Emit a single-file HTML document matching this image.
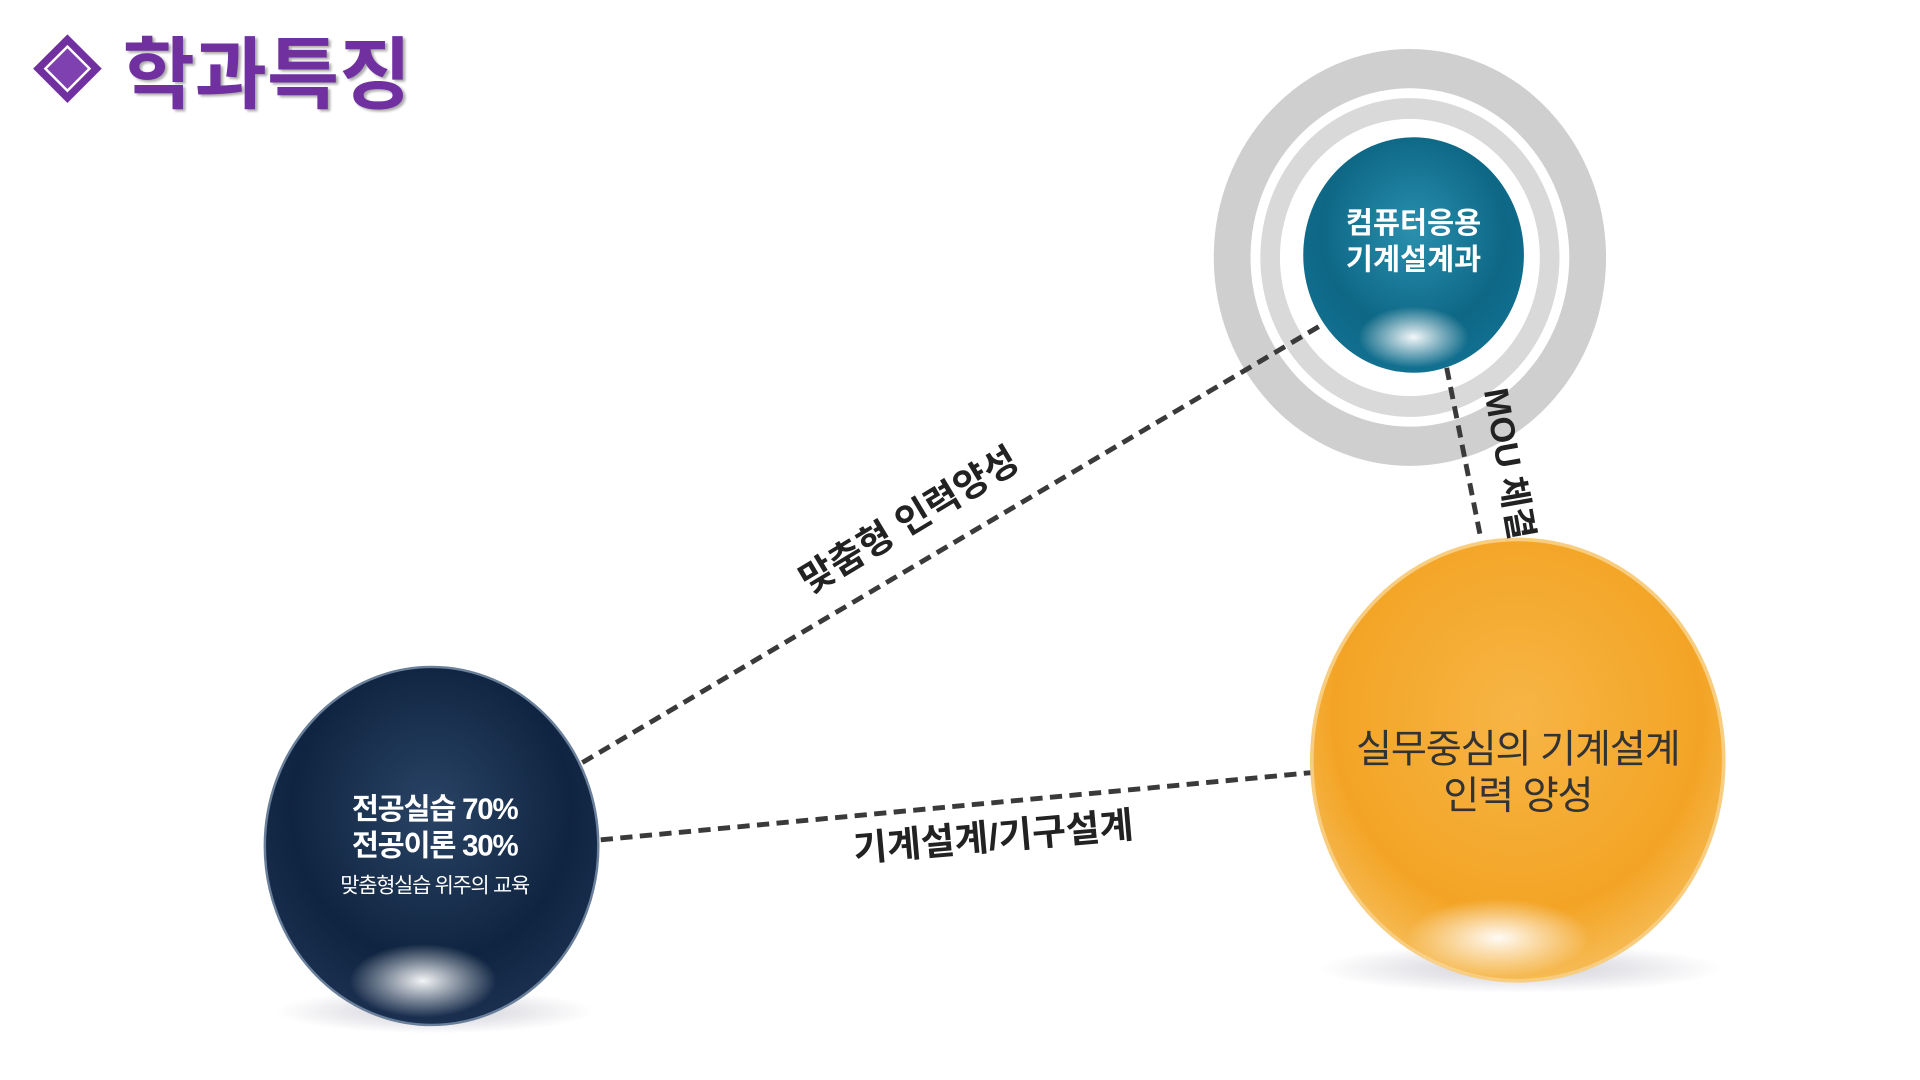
<!DOCTYPE html>
<html><head><meta charset="utf-8"><style>
html,body{margin:0;padding:0;background:#fff;overflow:hidden}
#w{width:1566px;height:881px;position:relative;transform:scale(1.226);transform-origin:0 0;font-family:"Liberation Sans","Noto Sans CJK KR",sans-serif}
.a{position:absolute}
.t{position:absolute;white-space:nowrap;font-weight:bold;color:#222;transform-origin:center center}
</style></head><body><div id="w">
<svg class="a" style="left:0;top:0" width="1566" height="881" viewBox="0 0 1566 881">
<defs>
<radialGradient id="gn" cx="50%" cy="40%" r="60%"><stop offset="0" stop-color="#2a4466"/><stop offset=".7" stop-color="#0f2440"/><stop offset="1" stop-color="#1b3050"/></radialGradient>
<radialGradient id="gt" cx="50%" cy="40%" r="60%"><stop offset="0" stop-color="#2a8fae"/><stop offset=".7" stop-color="#0d6785"/><stop offset="1" stop-color="#127090"/></radialGradient>
<radialGradient id="go" cx="50%" cy="40%" r="60%"><stop offset="0" stop-color="#f7b545"/><stop offset=".75" stop-color="#f3a425"/><stop offset="1" stop-color="#f6bb55"/></radialGradient>
<radialGradient id="gl" cx="50%" cy="50%" r="50%"><stop offset="0" stop-color="#fff" stop-opacity=".95"/><stop offset="1" stop-color="#fff" stop-opacity="0"/></radialGradient>
<radialGradient id="gs" cx="50%" cy="50%" r="50%"><stop offset="0" stop-color="#99a" stop-opacity=".5"/><stop offset="1" stop-color="#99a" stop-opacity="0"/></radialGradient>
</defs>
<polygon points="55,28 83,56 55,84 27,56" fill="#7030a0"/>
<polygon points="55,38 73,56 55,74 37,56" fill="#7f40b0" stroke="#fff" stroke-width="2"/>
<ellipse cx="1150" cy="210" rx="160" ry="170" fill="#cfcfcf"/>
<ellipse cx="1150" cy="210" rx="130" ry="138" fill="#fff"/>
<ellipse cx="1150" cy="210" rx="122" ry="130" fill="#d9d9d9"/>
<ellipse cx="1150" cy="210" rx="106" ry="113" fill="#fff"/>
<ellipse cx="355" cy="825" rx="130" ry="18" fill="url(#gs)"/>
<ellipse cx="1240" cy="790" rx="165" ry="20" fill="url(#gs)"/>
<g stroke="#3a3a3a" stroke-width="4" stroke-dasharray="10 6" fill="none">
<line x1="475" y1="622" x2="1078" y2="265"/>
<line x1="490" y1="685" x2="1072" y2="630"/>
<line x1="1180" y1="300" x2="1208" y2="440"/>
</g>
<ellipse cx="1153" cy="208" rx="90" ry="96" fill="url(#gt)"/>
<ellipse cx="1153" cy="275" rx="45" ry="25" fill="url(#gl)"/>
<ellipse cx="352" cy="690" rx="136" ry="146" fill="url(#gn)" stroke="#6a7f99" stroke-width="2"/>
<ellipse cx="345" cy="800" rx="60" ry="30" fill="url(#gl)"/>
<ellipse cx="1238" cy="620" rx="168" ry="180" fill="url(#go)" stroke="#f8cd80" stroke-width="3"/>
<ellipse cx="1222" cy="765" rx="75" ry="32" fill="url(#gl)"/>
</svg>
<div class="t" style="left:100px;top:10px;font-size:64px;color:#7030a0;text-shadow:2px 2px 2px #aaa">학과특징</div>
<div class="t" style="left:1063px;top:168px;width:180px;text-align:center;color:#fff;font-size:24px;line-height:30px">컴퓨터응용<br>기계설계과</div>
<div class="t" style="left:222px;top:646px;width:265px;text-align:center;color:#fff;font-size:24px;line-height:30px;letter-spacing:-1px">전공실습 70%<br>전공이론 30%<br><span style="font-size:17px;font-weight:normal">맞춤형실습 위주의 교육</span></div>
<div class="t" style="left:1070px;top:592px;width:336px;text-align:center;color:#333;font-size:32px;line-height:38px;font-weight:normal;letter-spacing:-1px">실무중심의 기계설계<br>인력 양성</div>
<div class="t" style="left:610px;top:400px;width:260px;text-align:center;font-size:30px;transform:rotate(-31deg)">맞춤형 인력양성</div>
<div class="t" style="left:670px;top:658px;width:280px;text-align:center;font-size:30px;transform:rotate(-5deg)">기계설계/기구설계</div>
<div class="t" style="left:1162px;top:358px;width:140px;text-align:center;font-size:28px;transform:rotate(80deg)">MOU 체결</div>
</div></body></html>
